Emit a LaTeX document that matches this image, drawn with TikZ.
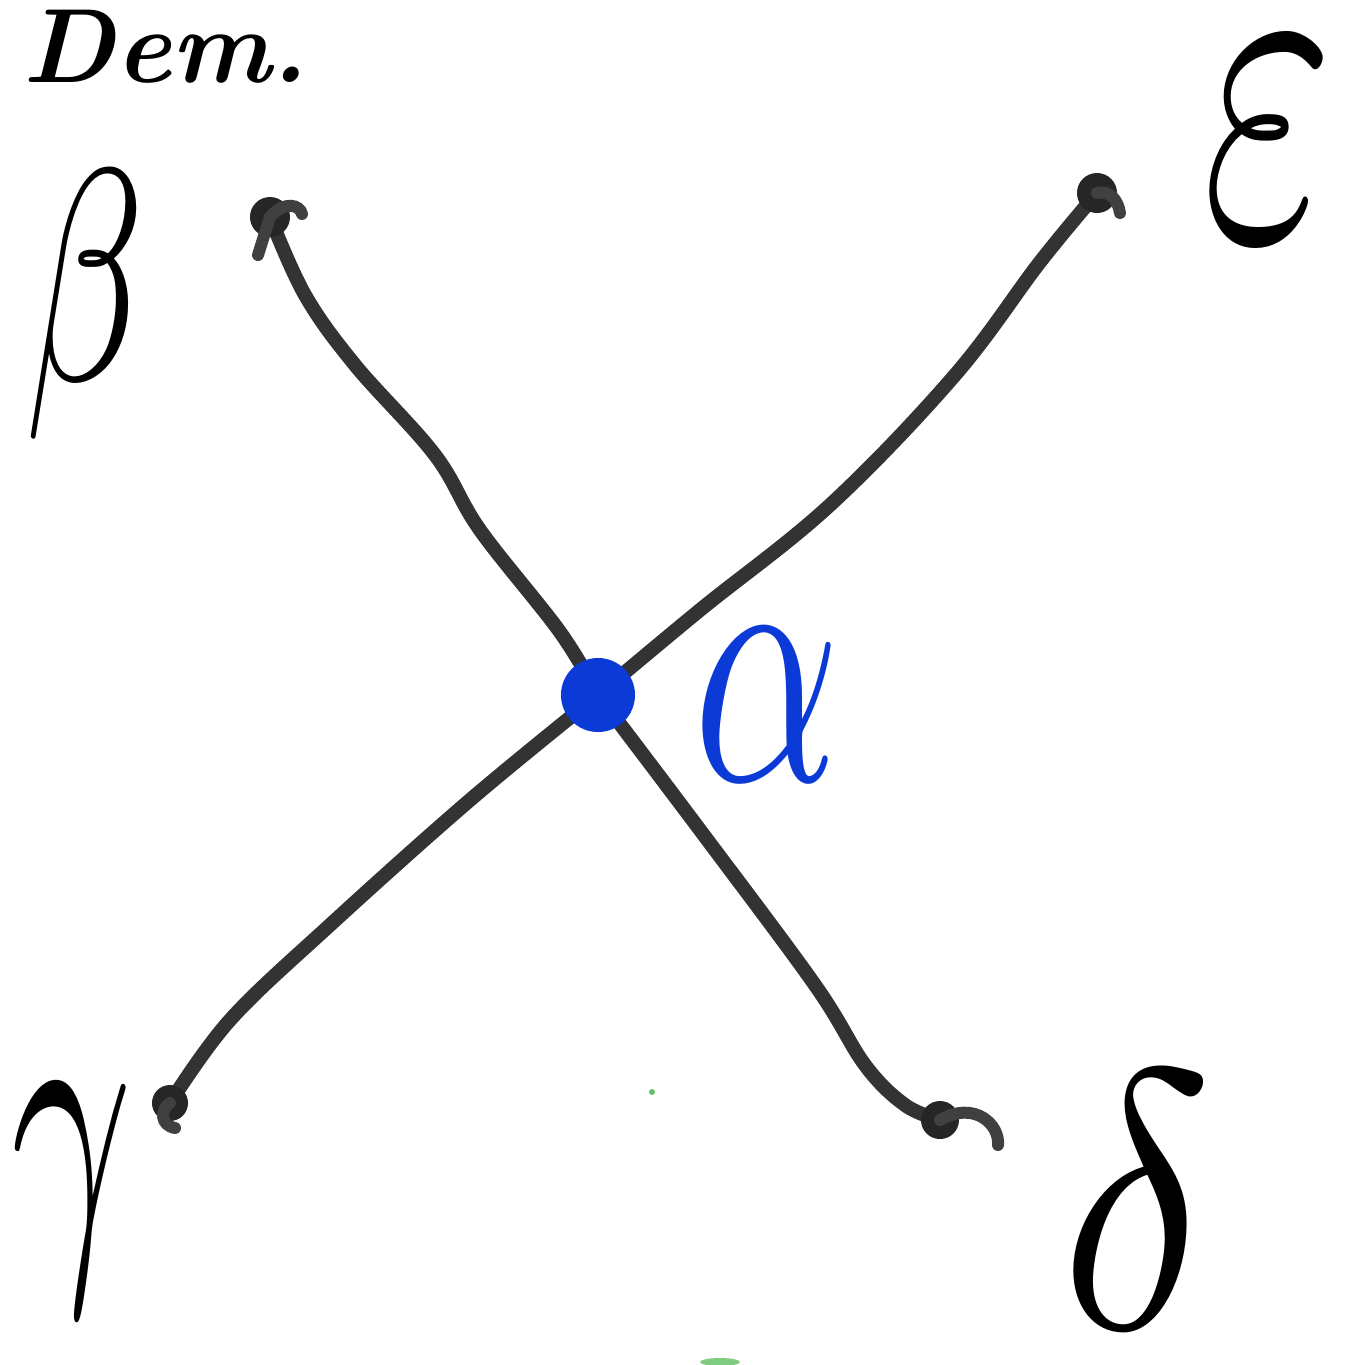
\documentclass[tikz,border=0pt]{standalone}
\usepackage{graphicx}
\definecolor{penblue}{RGB}{12,58,215}
\begin{document}
\begin{tikzpicture}[x=0.01cm,y=-0.01cm,
  ink/.style={draw=black!80,line width=4pt,line cap=round,line join=round},
  hook/.style={draw=black!75,line width=3.4pt,line cap=round},
  blob/.style={fill=black!85},
  bluedot/.style={circle,fill=penblue,minimum size=0.74cm,inner sep=0pt},
  lbl/.style={inner sep=0pt}]
\useasboundingbox (0,0) rectangle (1365,1365);
\fill[white] (0,0) rectangle (1365,1365);
% heading
\node[anchor=base west,inner sep=0pt,font=\bfseries\itshape] (dem) at (22,82) {\scalebox{3}{Dem.}};
% centre and ends
\coordinate (c) at (598,695);
\coordinate (b) at (270,217);
\coordinate (e) at (1097,193);
\coordinate (g) at (170,1103);
\coordinate (d) at (940,1120);
% connectors
\draw[ink] plot[smooth,tension=0.6] coordinates {(c) (560,632) (480,530) (435,455) (355,365) (305,295) (b)};
\draw[ink] plot[smooth,tension=0.6] coordinates {(c) (700,610) (830,505) (955,375) (1040,262) (e)};
\draw[ink] plot[smooth,tension=0.6] coordinates {(c) (470,800) (330,925) (230,1020) (g)};
\draw[ink] plot[smooth,tension=0.6] coordinates {(c) (700,830) (815,985) (865,1065) (905,1105) (d)};
% arrow blobs with hooks
\fill[blob] (b) circle (0.2cm);
\draw[hook] (b) .. controls (285,200) and (300,205) .. (302,214);
\draw[hook] (b) -- (258,255);
\fill[blob] (e) circle (0.2cm);
\draw[hook] (e) .. controls (1110,190) and (1118,200) .. (1120,213);
\fill[blob] (g) circle (0.18cm);
\draw[hook] (g) .. controls (160,1110) and (160,1125) .. (175,1128);
\fill[blob] (d) circle (0.19cm);
\draw[hook] (d) .. controls (975,1100) and (1000,1125) .. (998,1145);
% centre dot
\node[bluedot] (a) at (c) {};
% labels
\node[lbl] (lb) at (85,305) {\scalebox{5.5}[8.6]{$\beta$}};
\node[lbl] (le) at (1268,140) {\scalebox{8}[13]{$\varepsilon$}};
\node[lbl] (lg) at (72,1200) {\scalebox{6}[10.5]{$\gamma$}};
\node[lbl] (ld) at (1137,1200) {\scalebox{9}[10.5]{$\delta$}};
\node[lbl,text=penblue] (la) at (767,705) {\scalebox{6.5}[10]{$\alpha$}};
% stray marks
\fill[green!60!black!60] (652,1092) circle (0.03cm);
\fill[green!60!black!50] (720,1362) ellipse (0.2cm and 0.04cm);
\end{tikzpicture}
\end{document}
